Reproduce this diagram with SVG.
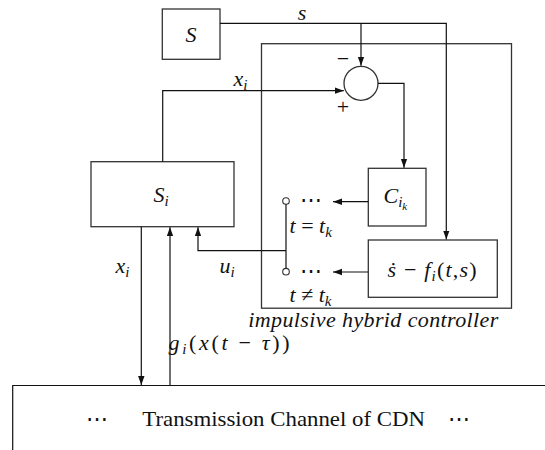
<svg xmlns="http://www.w3.org/2000/svg" width="545" height="450" viewBox="0 0 545 450">
<defs>
<marker id="arr" markerWidth="10" markerHeight="8" refX="9" refY="4" orient="auto" markerUnits="userSpaceOnUse">
<path d="M0,0.8 L9,4 L0,7.2 Z" fill="#111"/>
</marker>
<style>
.box{fill:#fff;stroke:#333;stroke-width:1.3}
.frame{fill:none;stroke:#333;stroke-width:1.3}
.ln{fill:none;stroke:#111;stroke-width:1.2}
.tx{font-family:"Liberation Serif","Times New Roman",serif;font-size:22px;font-style:normal;fill:#111}
.it{font-family:"Liberation Serif","Times New Roman",serif;font-size:22px;font-style:italic;fill:#111}
.sub{font-size:15px}
.sub2{font-size:11px}
</style>
</defs>
<rect width="545" height="450" fill="#fff"/>

<g id="controller">
<rect class="frame" x="261.5" y="43.7" width="250" height="264.5"/>
<text class="it" x="248.3" y="327.3" textLength="250" lengthAdjust="spacing">impulsive hybrid controller</text>
</g>

<g id="S">
<rect class="box" x="162.3" y="9" width="57.7" height="50.3"/>
<text class="it" x="191" y="42" text-anchor="middle">S</text>
</g>

<g id="sum">
<circle class="box" cx="361" cy="83.3" r="17"/>
<text class="tx" x="343" y="66" text-anchor="middle">−</text>
<text class="tx" x="343" y="114" text-anchor="middle">+</text>
</g>

<g id="Si">
<rect class="box" x="91" y="161.7" width="143" height="65"/>
<text class="it" x="153.5" y="201.7">S<tspan class="sub" dy="4">i</tspan></text>
</g>

<g id="Cik">
<rect class="box" x="368.3" y="168.3" width="57.7" height="57.7"/>
<text class="it" x="383.5" y="203.3">C<tspan class="sub" dy="4">i</tspan><tspan class="sub2" dy="3">k</tspan></text>
</g>

<g id="sf">
<rect class="box" x="368.3" y="240" width="129" height="57.3"/>
<text class="it" x="387.5" y="276.7" textLength="89" lengthAdjust="spacing">ṡ<tspan class="tx"> − </tspan>f<tspan class="sub" dy="4">i</tspan><tspan class="tx" dy="-4">(</tspan>t<tspan class="tx">,</tspan>s<tspan class="tx">)</tspan></text>
</g>

<g id="switch">
<circle cx="286" cy="201" r="3.3" fill="#fff" stroke="#333" stroke-width="1.1"/>
<circle cx="286" cy="271.7" r="3.3" fill="#fff" stroke="#333" stroke-width="1.1"/>
<text class="tx" x="299.5" y="207" textLength="23" lengthAdjust="spacing">⋯</text>
<text class="tx" x="299.5" y="277.7" textLength="23" lengthAdjust="spacing">⋯</text>
<text class="it" x="289.5" y="232.7">t<tspan class="tx"> = </tspan>t<tspan class="sub" dy="4">k</tspan></text>
<text class="it" x="289.5" y="301.7">t<tspan class="tx"> ≠ </tspan>t<tspan class="sub" dy="4">k</tspan></text>
</g>

<g id="channel">
<path class="ln" d="M545,385.5 H12.7 V450"/>
<text class="tx" x="85.5" y="426" textLength="21" lengthAdjust="spacing">⋯</text>
<text class="tx" x="142.3" y="426" textLength="282.7" lengthAdjust="spacingAndGlyphs">Transmission Channel of CDN</text>
<text class="tx" x="447.5" y="426" textLength="23" lengthAdjust="spacing">⋯</text>
</g>

<g id="connectors">
<path class="ln" d="M220,23.3 H446.3 V239.5" marker-end="url(#arr)"/>
<path class="ln" d="M361,23.3 V65.8" marker-end="url(#arr)"/>
<path class="ln" d="M162.7,161.7 V90.7 H343.8" marker-end="url(#arr)"/>
<path class="ln" d="M378,83.3 H404 V167.8" marker-end="url(#arr)"/>
<path class="ln" d="M368.3,201.7 H333" marker-end="url(#arr)"/>
<path class="ln" d="M368.3,272 H333" marker-end="url(#arr)"/>
<path class="ln" d="M286,204.3 V268.4"/>
<path class="ln" d="M286,250.7 H198 V227.2" marker-end="url(#arr)"/>
<path class="ln" d="M141.3,226.7 V385" marker-end="url(#arr)"/>
<path class="ln" d="M170,385.5 V227.2" marker-end="url(#arr)"/>
</g>

<g id="labels">
<text class="it" x="302" y="19.5" text-anchor="middle">s</text>
<text class="it" x="233.5" y="85.7">x<tspan class="sub" dy="4">i</tspan></text>
<text class="it" x="115.5" y="273">x<tspan class="sub" dy="4">i</tspan></text>
<text class="it" x="219.5" y="273">u<tspan class="sub" dy="4">i</tspan></text>
<text class="it" x="168.5" y="350" textLength="121" lengthAdjust="spacing">g<tspan class="sub" dy="4">i</tspan><tspan class="tx" dy="-4">(</tspan>x<tspan class="tx">(</tspan>t<tspan class="tx"> − </tspan>τ<tspan class="tx">))</tspan></text>
</g>
</svg>
